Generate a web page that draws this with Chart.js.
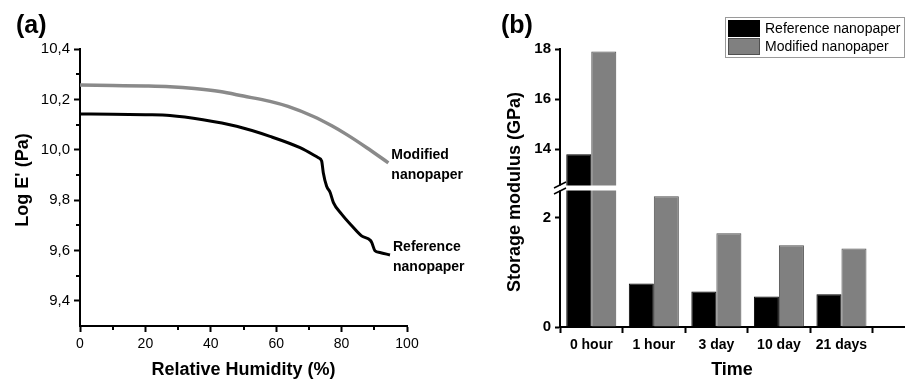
<!DOCTYPE html>
<html><head><meta charset="utf-8">
<script src="https://cdn.jsdelivr.net/npm/chart.js@4/dist/chart.umd.min.js"></script>
<style>
html,body{margin:0;padding:0;background:#fff;width:908px;height:381px;overflow:hidden}
canvas{position:absolute;top:0}
#ca{left:0}
#cb{left:450px}
</style></head><body>
<canvas id="ca" width="490" height="381"></canvas>
<canvas id="cb" width="458" height="381"></canvas>
<script>
// ---------- Panel (a) data ----------
const rhModified   = [0, 10, 20, 27.5, 35, 42.8, 50, 58.1, 63.6, 71.4, 77, 81.6, 87.7, 94.3];
const logEModified = [10.257, 10.255, 10.253, 10.250, 10.243, 10.231, 10.213, 10.192, 10.172, 10.132, 10.095, 10.060, 10.008, 9.948];
const rhReference   = [0, 10, 20, 27.5, 37.6, 47.9, 58.1, 67.3, 72.9, 73.9, 74.4, 75.4, 76.5, 77.5, 80, 83.1, 86.1, 88.8, 89.2, 90.2, 91.7, 94.8];
const logEReference = [10.142, 10.141, 10.139, 10.136, 10.119, 10.093, 10.053, 10.008, 9.968, 9.955, 9.909, 9.856, 9.830, 9.790, 9.744, 9.698, 9.658, 9.640, 9.632, 9.599, 9.592, 9.582];
const xTicksA = [0, 20, 40, 60, 80, 100];
const xMinorA = [10, 30, 50, 70, 90];
const yTicksA = [9.4, 9.6, 9.8, 10.0, 10.2, 10.4];
const yTickLabelsA = ['9,4', '9,6', '9,8', '10,0', '10,2', '10,4'];
const yMinorA = [9.5, 9.7, 9.9, 10.1, 10.3];
const seriesNotesA = [['Modified', 'nanopaper'], ['Reference', 'nanopaper']];

// ---------- Panel (b) data ----------
const timeLabels = ['0 hour', '1 hour', '3 day', '10 day', '21 days'];
const referenceModulus = [13.8, 0.80, 0.65, 0.56, 0.60];
const modifiedModulus  = [17.9, 2.40, 1.72, 1.50, 1.44];
const xTicksB = [1, 2, 3, 4, 5, 6];
const yTicksBLow = [0, 2];
const yTicksBHigh = [14, 16, 18];
const lowRange = [0, 2.55];
const highRange = [12.45, 18];

const FONT = "'Liberation Sans', Arial, Helvetica, sans-serif";
Chart.defaults.font.family = FONT;
Chart.defaults.color = '#000';

const axisGrid = (len) => ({drawOnChartArea: false, drawTicks: true, tickLength: len, tickWidth: 2, tickColor: '#000'});
const axisBorder = {display: true, color: '#000', width: 2};

// ---------- Panel (a) ----------
const plotAPlugin = {
  id: 'plotA',
  afterDraw(chart) {
    const ctx = chart.ctx, xs = chart.scales.x, ys = chart.scales.y, ca = chart.chartArea;
    ctx.save();
    ctx.strokeStyle = '#000'; ctx.lineWidth = 2;
    xMinorA.forEach(v => { const px = Math.round(xs.getPixelForValue(v)); ctx.beginPath(); ctx.moveTo(px, ca.bottom); ctx.lineTo(px, ca.bottom + 4); ctx.stroke(); });
    yMinorA.forEach(v => { const py = Math.round(ys.getPixelForValue(v)); ctx.beginPath(); ctx.moveTo(ca.left, py); ctx.lineTo(ca.left - 4, py); ctx.stroke(); });
    // panel label
    ctx.fillStyle = '#000';
    ctx.font = 'bold 25px ' + FONT;
    ctx.textAlign = 'left'; ctx.textBaseline = 'middle';
    ctx.fillText('(a)', 16, 26);
    // y title
    ctx.save();
    ctx.translate(23, 180); ctx.rotate(-Math.PI / 2);
    ctx.font = 'bold 18px ' + FONT; ctx.textAlign = 'center'; ctx.textBaseline = 'middle';
    ctx.fillText("Log E' (Pa)", 0, 0);
    ctx.restore();
    // series notes
    ctx.font = 'bold 14px ' + FONT; ctx.textAlign = 'left';
    chart.data.datasets.forEach((ds, i) => {
      const last = ds.data[ds.data.length - 1];
      const px = xs.getPixelForValue(last.x) + 3;
      const py = ys.getPixelForValue(last.y);
      ctx.fillText(seriesNotesA[i][0], px, py - 8);
      ctx.fillText(seriesNotesA[i][1], px, py + 12);
    });
    ctx.restore();
  }
};

new Chart(document.getElementById('ca'), {
  type: 'line',
  data: {
    datasets: [
      {label: 'Modified nanopaper', data: rhModified.map((x, i) => ({x, y: logEModified[i]})),
       borderColor: '#8a8a8a', borderWidth: 3.5, pointRadius: 0, cubicInterpolationMode: 'monotone', fill: false},
      {label: 'Reference nanopaper', data: rhReference.map((x, i) => ({x, y: logEReference[i]})),
       borderColor: '#000', borderWidth: 3, pointRadius: 0, cubicInterpolationMode: 'monotone', fill: false}
    ]
  },
  options: {
    responsive: false, animation: false,
    layout: {padding: {left: 0, top: 49, right: 83, bottom: 0}},
    plugins: {legend: {display: false}, tooltip: {enabled: false}},
    scales: {
      x: {type: 'linear', min: 0, max: 100,
          afterBuildTicks: s => { s.ticks = xTicksA.map(v => ({value: v})); },
          afterFit: s => { s.height = 55; },
          grid: axisGrid(6), border: axisBorder,
          ticks: {font: {size: 14}, color: '#000', padding: 4, maxRotation: 0, callback: v => String(v)},
          title: {display: true, text: 'Relative Humidity (%)', font: {size: 18, weight: 'bold'}, color: '#000', padding: 0}},
      y: {type: 'linear', min: 9.3, max: 10.4,
          afterBuildTicks: s => { s.ticks = yTicksA.map(v => ({value: v})); },
          afterFit: s => { s.width = 80; },
          grid: axisGrid(6), border: axisBorder,
          ticks: {font: {size: 15}, color: '#000', padding: 4, callback: (v, i) => yTickLabelsA[i]}}
    }
  },
  plugins: [plotAPlugin]
});

// ---------- Panel (b) ----------
const refLow  = referenceModulus.map((v, i) => ({x: i + 1, y: [lowRange[0], Math.min(v, lowRange[1])]}));
const modLow  = modifiedModulus.map((v, i) => ({x: i + 1, y: [lowRange[0], Math.min(v, lowRange[1])]}));
const refHigh = referenceModulus.map((v, i) => ({x: i + 1, y: [highRange[0], v]})).filter(d => d.y[1] > highRange[0]);
const modHigh = modifiedModulus.map((v, i) => ({x: i + 1, y: [highRange[0], v]})).filter(d => d.y[1] > highRange[0]);

const REF_FILL = '#000000', REF_EDGE = '#000000', MOD_FILL = '#808080', MOD_EDGE = '#505050';

const plotBPlugin = {
  id: 'plotB',
  afterDraw(chart) {
    const ctx = chart.ctx, ca = chart.chartArea, yh = chart.scales.yHigh;
    ctx.save();
    // axis break
    const yb = yh.bottom;
    ctx.fillStyle = '#fff';
    ctx.fillRect(ca.left - 8, yb - 2.5, ca.right - ca.left + 10, 5);
    ctx.strokeStyle = '#000'; ctx.lineWidth = 1.5;
    [[-3], [3]].forEach(([d]) => {
      ctx.beginPath(); ctx.moveTo(ca.left - 6, yb + d + 3); ctx.lineTo(ca.left + 6, yb + d - 3); ctx.stroke();
    });
    // panel label
    ctx.fillStyle = '#000';
    ctx.font = 'bold 25px ' + FONT; ctx.textAlign = 'left'; ctx.textBaseline = 'middle';
    ctx.fillText('(b)', 51, 26);
    // y title
    ctx.save();
    ctx.translate(65, 192); ctx.rotate(-Math.PI / 2);
    ctx.font = 'bold 18px ' + FONT; ctx.textAlign = 'center'; ctx.textBaseline = 'middle';
    ctx.fillText('Storage modulus (GPa)', 0, 0);
    ctx.restore();
    // legend
    const lx = 275, ly = 17, lw = 179, lh = 40;
    ctx.strokeStyle = '#9a9a9a'; ctx.lineWidth = 1;
    ctx.strokeRect(lx + 0.5, ly + 0.5, lw, lh);
    const items = chart.data.datasets.slice(0, 2);
    items.forEach((ds, i) => {
      const ry = ly + 3 + i * 18;
      ctx.fillStyle = ds.backgroundColor;
      ctx.fillRect(lx + 3, ry, 32, 17);
      ctx.strokeStyle = ds.borderColor; ctx.lineWidth = 1;
      ctx.strokeRect(lx + 3.5, ry + 0.5, 31, 16);
      ctx.fillStyle = '#000';
      ctx.font = '14px ' + FONT; ctx.textAlign = 'left'; ctx.textBaseline = 'middle';
      ctx.fillText(ds.label, lx + 40, ry + 9);
    });
    ctx.restore();
  }
};

new Chart(document.getElementById('cb'), {
  type: 'bar',
  data: {
    datasets: [
      {label: 'Reference nanopaper', data: refLow, yAxisID: 'yLow', stack: 'ref', backgroundColor: REF_FILL, borderColor: REF_EDGE, borderWidth: 1},
      {label: 'Modified nanopaper', data: modLow, yAxisID: 'yLow', stack: 'mod', backgroundColor: MOD_FILL, borderColor: MOD_EDGE, borderWidth: 1},
      {label: 'Reference nanopaper', data: refHigh, yAxisID: 'yHigh', stack: 'ref', backgroundColor: REF_FILL, borderColor: REF_EDGE, borderWidth: 1},
      {label: 'Modified nanopaper', data: modHigh, yAxisID: 'yHigh', stack: 'mod', backgroundColor: MOD_FILL, borderColor: MOD_EDGE, borderWidth: 1}
    ]
  },
  options: {
    responsive: false, animation: false,
    layout: {padding: {left: 0, top: 49, right: 3, bottom: 0}},
    datasets: {bar: {barPercentage: 1, categoryPercentage: 0.8, borderSkipped: 'start'}},
    plugins: {legend: {display: false}, tooltip: {enabled: false}},
    scales: {
      x: {type: 'linear', min: 0.5, max: 6, offset: false,
          afterBuildTicks: s => { s.ticks = xTicksB.map(v => ({value: v})); },
          afterFit: s => { s.height = 54; },
          grid: axisGrid(6), border: axisBorder,
          ticks: {font: {size: 14, weight: 'bold'}, color: '#000', padding: 4, maxRotation: 0, autoSkip: false,
                  callback: v => timeLabels[v - 1] || ''},
          title: {display: true, text: 'Time', font: {size: 18, weight: 'bold'}, color: '#000', padding: 0}},
      yLow: {type: 'linear', position: 'left', stack: 'ybreak', stackWeight: 1, weight: 0, stacked: false,
             min: lowRange[0], max: lowRange[1],
             afterBuildTicks: s => { s.ticks = yTicksBLow.map(v => ({value: v})); },
             afterFit: s => { s.width = 110; },
             grid: axisGrid(5), border: axisBorder,
             ticks: {font: {size: 15, weight: 'bold'}, color: '#000', padding: 4}},
      yHigh: {type: 'linear', position: 'left', stack: 'ybreak', stackWeight: 1, weight: 1, stacked: false,
              min: highRange[0], max: highRange[1],
              afterBuildTicks: s => { s.ticks = yTicksBHigh.map(v => ({value: v})); },
              afterFit: s => { s.width = 110; },
              grid: axisGrid(5), border: axisBorder,
              ticks: {font: {size: 15, weight: 'bold'}, color: '#000', padding: 4}}
    }
  },
  plugins: [plotBPlugin]
});
</script>
</body></html>
